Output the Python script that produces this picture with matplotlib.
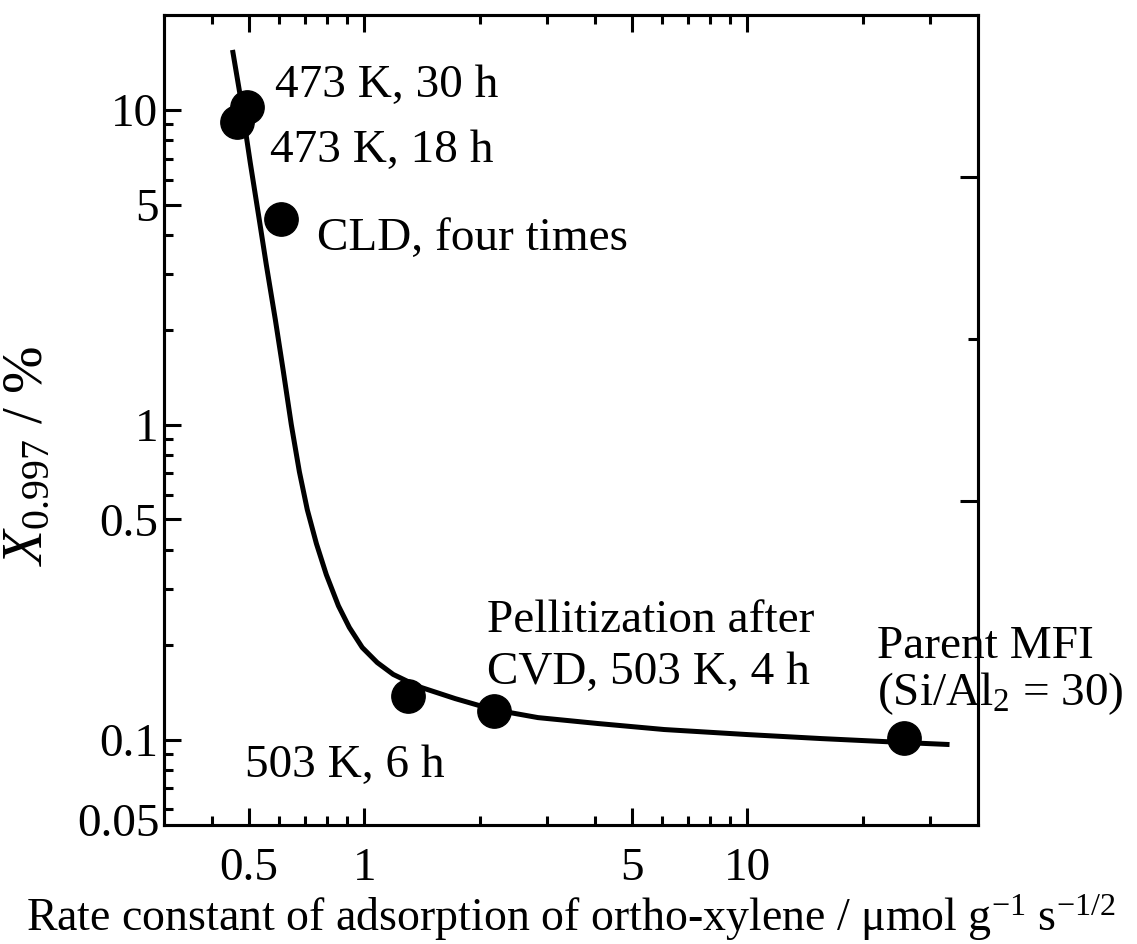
import numpy as np
import matplotlib.pyplot as plt
from matplotlib.ticker import NullFormatter

plt.rcParams['font.family'] = ['Liberation Serif', 'DejaVu Serif']
plt.rcParams['mathtext.fontset'] = 'custom'
plt.rcParams['mathtext.rm'] = 'Liberation Serif'
plt.rcParams['mathtext.it'] = 'Liberation Serif:italic'

# measured samples
pts_x = [0.465, 0.493, 0.607, 1.30, 2.18, 25.7]
pts_y = [9.18, 10.2, 4.50, 0.137, 0.123, 0.101]

# guide curve
curve_x = [0.453, 0.475, 0.504, 0.532, 0.555, 0.586, 0.615, 0.645, 0.677, 0.710,
           0.750, 0.796, 0.856, 0.914, 0.988, 1.081, 1.19, 1.383, 1.727, 2.17,
           2.84, 4.08, 6.06, 10.0, 15.6, 25.8, 33.7]
curve_y = [15.5, 11.0, 6.79, 4.48, 3.22, 2.154, 1.473, 1.0, 0.709, 0.537,
           0.419, 0.334, 0.266, 0.227, 0.196, 0.1756, 0.161, 0.1474, 0.1349, 0.1245,
           0.1174, 0.1124, 0.1076, 0.1037, 0.1007, 0.0978, 0.0964]

x_major = [0.5, 1, 5, 10]
x_major_labels = ['0.5', '1', '5', '10']
x_minor = [0.4, 0.6, 0.7, 0.8, 0.9, 2, 3, 4, 6, 7, 8, 9, 20, 30]
y_major = [0.1, 0.5, 1, 5, 10]
y_major_labels = ['0.1', '0.5', '1', '5', '10']
y_minor = [0.06, 0.07, 0.08, 0.09, 0.2, 0.3, 0.4, 0.6, 0.7, 0.8, 0.9,
           2, 3, 4, 6, 7, 8, 9]

fs = 34

fig = plt.figure(figsize=(11.37, 9.44), dpi=100)
ax = fig.add_axes([0.1442, 0.126, 0.7160, 0.858])

ax.plot(curve_x, curve_y, color='black', lw=3.6, solid_joinstyle='round',
        solid_capstyle='butt')
ax.plot(pts_x, pts_y, 'o', color='black', ms=24, zorder=3)

ax.set_xscale('log')
ax.set_yscale('log')
ax.set_xlim(0.3, 40)
ax.set_ylim(0.0535, 20)

ax.set_xticks(x_major, labels=x_major_labels)
ax.set_xticks(x_minor, minor=True)
ax.set_yticks(y_major, labels=y_major_labels)
ax.set_yticks(y_minor, minor=True)
ax.xaxis.set_minor_formatter(NullFormatter())
ax.yaxis.set_minor_formatter(NullFormatter())

ax.tick_params(which='both', direction='in', top=True, right=False, width=2.2,
               labelsize=fs)
ax.tick_params(which='major', length=12)
ax.tick_params(which='minor', length=6.5)
ax.tick_params(axis='x', pad=16)
ax.tick_params(axis='y', pad=4)
for s in ax.spines.values():
    s.set_linewidth(2.2)

# odd tick marks on the right frame
ax2 = ax.twinx()
ax2.set_ylim(0, 1)
ax2.set_yticks([0.4, 0.8])
ax2.set_yticks([0.6], minor=True)
ax2.yaxis.set_major_formatter(NullFormatter())
ax2.tick_params(which='both', direction='in', width=2.2)
ax2.tick_params(which='major', length=13)
ax2.tick_params(which='minor', length=7)
for s in ax2.spines.values():
    s.set_linewidth(2.2)

ax.text(-0.005, 0.0, '0.05', transform=ax.transAxes, ha='right', va='center',
        fontsize=fs)

ax.set_xlabel('Rate constant of adsorption of ortho-xylene / \u03bcmol g$^{-1}$ s$^{-1/2}$',
              fontsize=33, labelpad=2)
ax.set_ylabel('$X_{0.997}$ / %', fontsize=41)
ax.yaxis.set_label_coords(-0.135, 0.455)

tk = dict(transform=ax.transAxes, fontsize=fs, va='baseline', ha='left')
ax.text(0.136, 0.899, '473 K, 30 h', **tk)
ax.text(0.130, 0.8185, '473 K, 18 h', **tk)
ax.text(0.188, 0.710, 'CLD, four times', **tk)
ax.text(0.0995, 0.0593, '503 K, 6 h', **tk)
ax.text(0.397, 0.2384, 'Pellitization after', **tk)
ax.text(0.397, 0.1747, 'CVD, 503 K, 4 h', **tk)
ax.text(0.876, 0.206, 'Parent MFI', **tk)
ax.text(0.876, 0.148, '(Si/Al$_2$ = 30)', **tk)

fig.savefig('out.png', dpi=100)
